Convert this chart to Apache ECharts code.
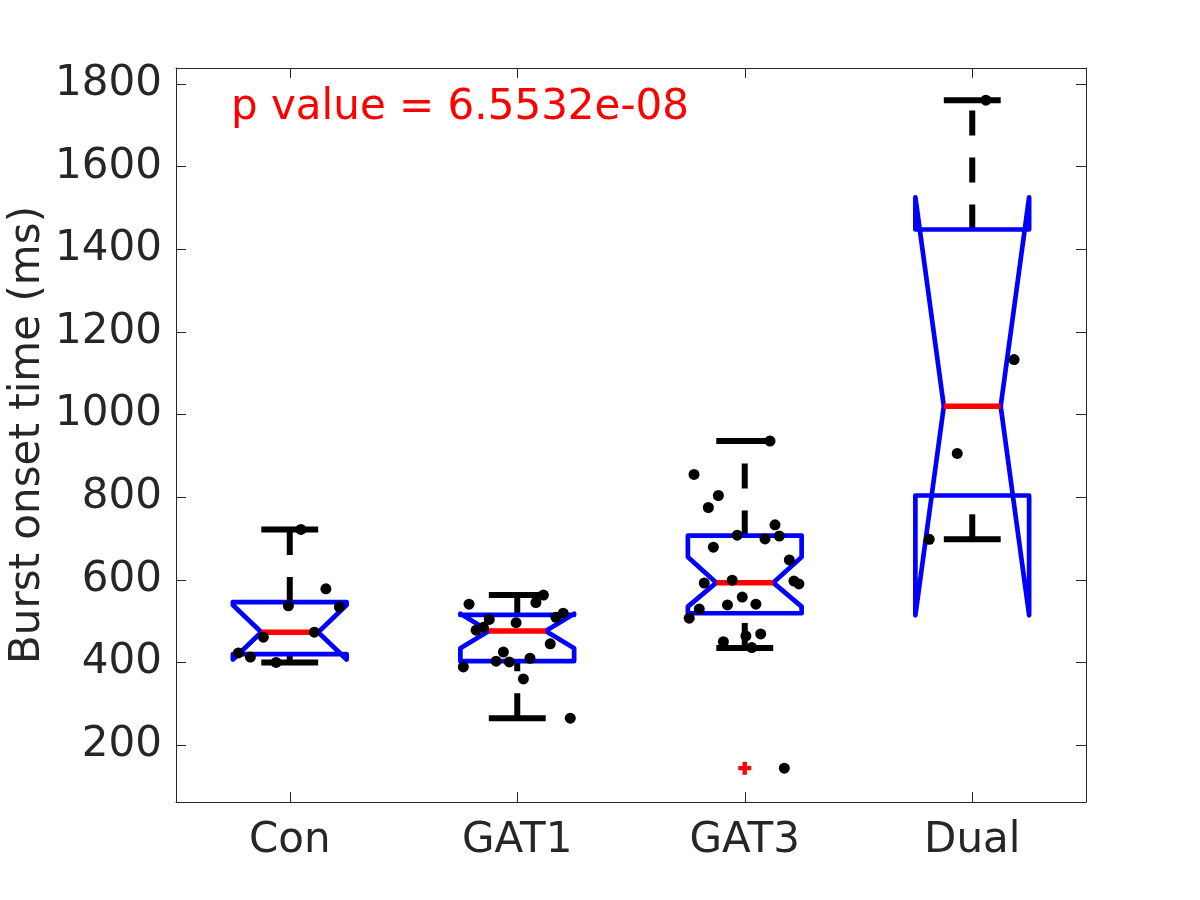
<!DOCTYPE html>
<html>
<head>
<meta charset="utf-8">
<title>Burst onset time</title>
<script src="https://cdn.jsdelivr.net/npm/echarts@6/dist/echarts.min.js"></script>
<style>
  html, body { margin: 0; padding: 0; background: #fff; }
  #chart { width: 1200px; height: 900px; }
</style>
</head>
<body>
<div id="chart"></div>
<script>
const groups = ['Con', 'GAT1', 'GAT3', 'Dual']
const yTicks = [200, 400, 600, 800, 1000, 1200, 1400, 1600, 1800]
const groupTicks = [1, 2, 3, 4]

// box statistics
const q1 = [420, 403, 519, 804]
const medians = [473, 476, 593, 1020]
const q3 = [546, 515, 707, 1448]
const notchLow = [407, 434, 535, 514]
const notchHigh = [539, 518, 655, 1526]
const whiskerLow = [400, 265, 435, 698]
const whiskerHigh = [722, 563, 936, 1761]

// outliers (red +)
const outlierGroup = [3]
const outlierValue = [144]

// raw points, jitter = horizontal offset from the group centre (category units)
const conValues = [722, 578, 537, 534, 461, 473, 423, 413, 400]
const conJitter = [0.049, 0.159, -0.006, 0.218, -0.116, 0.108, -0.226, -0.173, -0.060]
const gat1Values = [563, 545, 541, 519, 509, 504, 496, 485, 478, 445, 425, 410, 403, 401, 389, 360, 265]
const gat1Jitter = [0.115, 0.082, -0.212, 0.202, 0.170, -0.123, -0.005, -0.149, -0.181, 0.145, -0.061, 0.056, -0.093, -0.035, -0.237, 0.027, 0.233]
const gat3Values = [936, 855, 804, 775, 733, 708, 699, 706, 679, 648, 592, 599, 597, 590, 558, 539, 541, 529, 507, 450, 464, 469, 436, 144]
const gat3Jitter = [0.111, -0.223, -0.116, -0.160, 0.133, -0.033, 0.089, 0.152, -0.138, 0.196, -0.178, -0.055, 0.216, 0.238, -0.011, -0.076, 0.049, -0.200, -0.244, -0.094, 0.005, 0.070, 0.031, 0.174]
const dualValues = [1761, 1133, 906, 698]
const dualJitter = [0.060, 0.184, -0.066, -0.189]

const pValueText = 'p value = 6.5532e-08'

const allValues = [conValues, gat1Values, gat3Values, dualValues]
const allJitter = [conJitter, gat1Jitter, gat3Jitter, dualJitter]

const axisColor = '#262626'
const font = 'DejaVu Sans'

const boxData = groups.map((g, i) => [i + 1, q1[i], medians[i], q3[i], notchLow[i], notchHigh[i], whiskerLow[i], whiskerHigh[i]])

const pointData = []
allValues.forEach((vals, i) => {
  vals.forEach((v, j) => {
    pointData.push([i + 1 + allJitter[i][j], v])
  })
})

const outlierData = outlierGroup.map((g, i) => [g, outlierValue[i]])

function renderBox(params, api) {
  const x = api.value(0)
  const half = api.size([0.25, 0])[0]
  const inset = half / 2
  const capHalf = api.size([0.125, 0])[0]
  const cx = api.coord([x, api.value(2)])[0]
  const y = i => api.coord([x, api.value(i)])[1]
  const yQ1 = y(1)
  const yMed = y(2)
  const yQ3 = y(3)
  const yNLo = y(4)
  const yNHi = y(5)
  const yWLo = y(6)
  const yWHi = y(7)

  const whiskerStyle = { stroke: '#000', lineWidth: 6, lineDash: [25, 22], lineCap: 'butt', fill: null }
  const capStyle = { stroke: '#000', lineWidth: 6, lineCap: 'butt', fill: null }

  const L = cx - half
  const R = cx + half
  const points = [
    [L, yQ1], [L, yNLo], [cx - inset, yMed], [L, yNHi], [L, yQ3],
    [R, yQ3], [R, yNHi], [cx + inset, yMed], [R, yNLo], [R, yQ1]
  ]

  return {
    type: 'group',
    children: [
      // whiskers drawn from the lower value upwards
      { type: 'line', shape: { x1: cx, y1: yWLo, x2: cx, y2: yQ1 }, style: whiskerStyle },
      { type: 'line', shape: { x1: cx, y1: yQ3, x2: cx, y2: yWHi }, style: whiskerStyle },
      { type: 'line', shape: { x1: cx - capHalf, y1: yWLo, x2: cx + capHalf, y2: yWLo }, style: capStyle },
      { type: 'line', shape: { x1: cx - capHalf, y1: yWHi, x2: cx + capHalf, y2: yWHi }, style: capStyle },
      {
        type: 'polygon',
        shape: { points },
        style: { fill: 'none', stroke: '#0000ff', lineWidth: 4.7, lineJoin: 'round' }
      },
      {
        type: 'line',
        shape: { x1: cx - inset, y1: yMed, x2: cx + inset, y2: yMed },
        style: { stroke: '#ff0000', lineWidth: 5.5, fill: null }
      }
    ]
  }
}

const chart = echarts.init(document.getElementById('chart'))

const xAxisBase = {
  type: 'value',
  min: 0.5,
  max: 4.5,
  axisLine: { show: true, onZero: false, lineStyle: { color: axisColor, width: 1 } },
  axisTick: { show: true, inside: true, length: 10, customValues: groupTicks, lineStyle: { color: axisColor, width: 1 } },
  splitLine: { show: false }
}

const yAxisBase = {
  type: 'value',
  min: 62,
  max: 1839,
  axisLine: { show: true, onZero: false, lineStyle: { color: axisColor, width: 1 } },
  axisTick: { show: true, inside: true, length: 10, customValues: yTicks, lineStyle: { color: axisColor, width: 1 } },
  splitLine: { show: false }
}

chart.setOption({
  animation: false,
  backgroundColor: '#fff',
  grid: { left: 176, top: 68, width: 910, height: 734, containLabel: false, outerBoundsMode: 'none' },
  xAxis: [
    Object.assign({}, xAxisBase, {
      position: 'bottom',
      axisLabel: {
        customValues: groupTicks,
        formatter: v => groups[Math.round(v) - 1],
        fontSize: 42,
        fontFamily: font,
        color: axisColor,
        margin: 18
      }
    }),
    Object.assign({}, xAxisBase, { position: 'top', axisLabel: { show: false } })
  ],
  yAxis: [
    Object.assign({}, yAxisBase, {
      position: 'left',
      name: 'Burst onset time (ms)',
      nameLocation: 'middle',
      nameRotate: 90,
      nameGap: 127,
      nameMoveOverlap: false,
      nameTextStyle: { fontSize: 42, fontFamily: font, color: axisColor },
      axisLabel: {
        customValues: yTicks,
        formatter: v => String(v),
        fontSize: 42,
        fontFamily: font,
        color: axisColor,
        margin: 14
      }
    }),
    Object.assign({}, yAxisBase, { position: 'right', axisLabel: { show: false } })
  ],
  graphic: [
    {
      type: 'text',
      x: 231,
      y: 108,
      style: {
        text: pValueText,
        fill: '#ff0000',
        font: '42px "DejaVu Sans"',
        verticalAlign: 'middle'
      }
    }
  ],
  series: [
    {
      type: 'custom',
      name: 'box',
      renderItem: renderBox,
      data: boxData,
      z: 2
    },
    {
      type: 'scatter',
      name: 'outliers',
      data: outlierData,
      symbol: 'path://M4,0H8V4H12V8H8V12H4V8H0V4H4Z',
      symbolSize: 13,
      itemStyle: { color: '#ff0000', opacity: 1 },
      z: 3
    },
    {
      type: 'scatter',
      name: 'points',
      data: pointData,
      symbol: 'circle',
      symbolSize: 11,
      itemStyle: { color: '#000', opacity: 1 },
      z: 4
    }
  ]
})
</script>
</body>
</html>
